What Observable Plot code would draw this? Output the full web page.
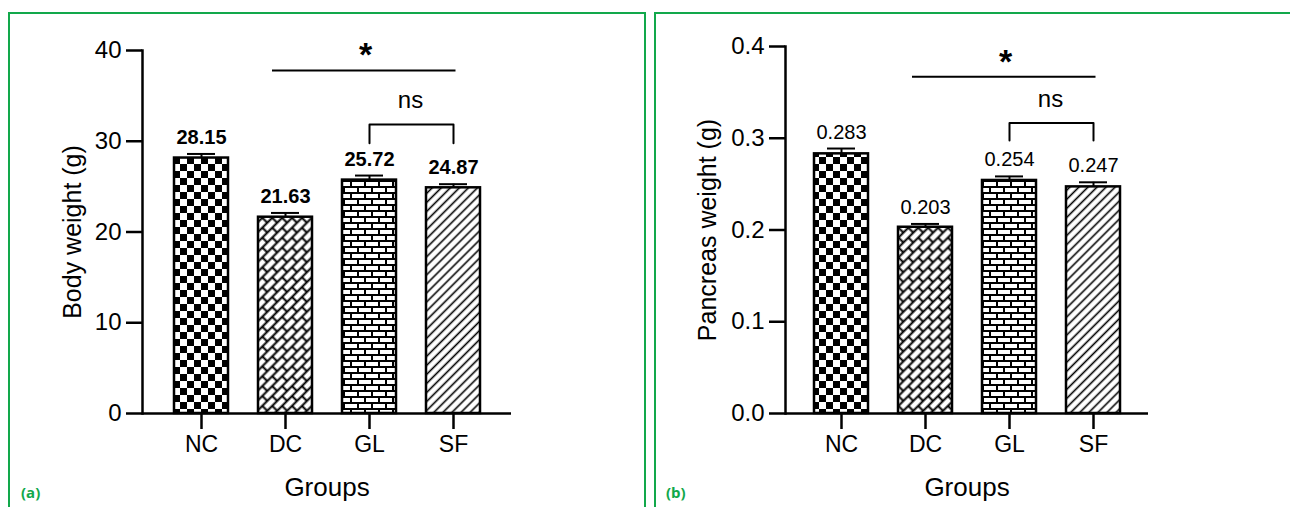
<!DOCTYPE html>
<html><head><meta charset="utf-8">
<script src="https://cdn.jsdelivr.net/npm/d3@7"></script>
<script src="https://cdn.jsdelivr.net/npm/@observablehq/plot@0.6"></script>
<style>
body{margin:0;width:1290px;height:507px;overflow:hidden;background:#fff;position:relative;font-family:"Liberation Sans",Arial,sans-serif;}
.panel{position:absolute;top:12px;height:520px;border:2px solid #12a84b;border-bottom:none;box-sizing:border-box;pointer-events:none;z-index:2;}
.tag{position:absolute;top:482px;font-family:"Open Sans",sans-serif;font-weight:700;font-size:15px;color:#12a84b;z-index:3;}
.chart{position:absolute;top:0;}
</style></head><body>
<svg width="0" height="0" style="position:absolute">
<defs>
<pattern id="pat-checker" patternUnits="userSpaceOnUse" width="14" height="14" x="5" y="3">
 <rect width="14" height="14" fill="white"/>
 <rect width="7" height="7" fill="black"/>
 <rect x="7" y="7" width="7" height="7" fill="black"/>
</pattern>
<pattern id="pat-herring" patternUnits="userSpaceOnUse" width="14" height="14" patternTransform="rotate(-45)">
 <rect width="14" height="14" fill="white"/>
 <path d="M0 3.5H14M0 10.5H14M3.5 3.5V10.5M10.5 10.5V14M10.5 0V3.5" stroke="black" stroke-width="2" fill="none"/>
</pattern>
<pattern id="pat-brick" patternUnits="userSpaceOnUse" width="14" height="12">
 <rect width="14" height="12" fill="white"/>
 <path d="M0 1H14M0 7H14M1 1V7M8 7V12M8 0V1" stroke="black" stroke-width="2" fill="none"/>
</pattern>
<pattern id="pat-hatch" patternUnits="userSpaceOnUse" width="6.4" height="10" patternTransform="rotate(45)">
 <rect width="6.4" height="10" fill="white"/>
 <path d="M3.2 0V10" stroke="black" stroke-width="1.6"/>
</pattern>
</defs>
</svg>
<div class="panel" style="left:8px;width:638px;"></div>
<div class="panel" style="left:654px;width:660px;"></div>
<div class="tag" style="left:21px;">(a)</div>
<div class="tag" style="left:666px;">(b)</div>
<div id="left" class="chart" style="left:0px;"></div>
<div id="right" class="chart" style="left:646px;"></div>
<script>
const groups = ["NC", "DC", "GL", "SF"];
const bodyWeight = [28.15, 21.63, 25.72, 24.87];
const bodyError = [0.45, 0.47, 0.5, 0.4];
const pancreasWeight = [0.283, 0.203, 0.254, 0.247];
const pancreasError = [0.0058, 0.0036, 0.0044, 0.005];
const bodyTicks = [0, 10, 20, 30, 40];
const pancreasTicks = [0, 0.1, 0.2, 0.3, 0.4];
const patternFills = ["url(#pat-checker)", "url(#pat-herring)", "url(#pat-brick)", "url(#pat-hatch)"];
const bodySig = {star: 37.8, bracketTop: 31.85, bracketFoot: 29.78};
const pancreasSig = {star: 0.367, bracketTop: 0.3166, bracketFoot: 0.2976};

function chart(o) {
  const data = groups.map((g, i) => ({group: g, value: o.values[i], top: o.values[i] + o.errors[i]}));
  const bracket = [
    {group: "GL", y: o.sig.bracketFoot}, {group: "GL", y: o.sig.bracketTop},
    {group: "SF", y: o.sig.bracketTop}, {group: "SF", y: o.sig.bracketFoot}
  ];
  return Plot.plot({
    width: 644, height: 507,
    marginTop: o.marginTop, marginBottom: 94, marginLeft: o.marginLeft, marginRight: o.marginRight,
    style: {fontFamily: "Liberation Sans, Arial, sans-serif", background: "transparent", color: "black", overflow: "visible"},
    x: {domain: groups, paddingInner: 0.359, paddingOuter: o.paddingOuter, label: null},
    y: {domain: [o.ticks[0], o.ticks[o.ticks.length - 1]], label: null},
    color: {domain: groups, range: patternFills},
    marks: [
      Plot.barY(data, {x: "group", y: "value", fill: "group", stroke: "black", strokeWidth: 2.5}),
      Plot.ruleX(data, {x: "group", y1: "value", y2: "top", stroke: "black", strokeWidth: 2}),
      Plot.tickY(data, {x: "group", y: "top", stroke: "black", strokeWidth: 2, insetLeft: 13, insetRight: 13}),
      Plot.text(data, {x: "group", y: "top", text: d => o.valueFormat(d.value), lineAnchor: "bottom", dy: -10, fontSize: 20, fontWeight: o.valueWeight}),
      Plot.frame({anchor: "left", strokeWidth: 2.5}),
      Plot.ruleY([0], {strokeWidth: 2.5}),
      Plot.axisY({ticks: o.ticks, tickSize: 16, tickPadding: 5, tickFormat: o.tickFormat, fontSize: 24, strokeWidth: 2.5, label: null}),
      Plot.axisX({tickSize: 16, tickPadding: 6, fontSize: 23, strokeWidth: 2.5, label: null}),
      Plot.text([o.yLabel], {text: d => d, frameAnchor: "left", textAnchor: "middle", rotate: -90, dx: o.labelDx, fontSize: 25}),
      Plot.text(["Groups"], {text: d => d, frameAnchor: "bottom", textAnchor: "middle", dy: 82, fontSize: 26}),
      Plot.ruleY([o.sig.star], {x1: () => "DC", x2: () => "SF", strokeWidth: 2, insetLeft: 14, insetRight: 24.5}),
      Plot.text(["*"], {text: d => d, x: () => "GL", y: () => o.sig.star, dx: -4, dy: -4, lineAnchor: "bottom", fontSize: 34, fontWeight: "bold"}),
      Plot.line(bracket, {x: "group", y: "y", stroke: "black", strokeWidth: 2}),
      Plot.text(["ns"], {text: d => d, x: () => "GL", y: () => o.sig.bracketTop, dx: 41, dy: -16, lineAnchor: "bottom", fontSize: 24})
    ]
  });
}

document.getElementById("left").append(chart({
  values: bodyWeight, errors: bodyError, ticks: bodyTicks, tickFormat: d3.format("d"),
  valueFormat: d3.format(".2f"), valueWeight: "bold", sig: bodySig, yLabel: "Body weight (g)",
  marginTop: 50, marginLeft: 142, marginRight: 133, paddingOuter: 0.368, labelDx: -70
}));
document.getElementById("right").append(chart({
  values: pancreasWeight, errors: pancreasError, ticks: pancreasTicks, tickFormat: d3.format(".1f"),
  valueFormat: d3.format(".3f"), valueWeight: "normal", sig: pancreasSig, yLabel: "Pancreas weight (g)",
  marginTop: 46, marginLeft: 139, marginRight: 142, paddingOuter: 0.3325, labelDx: -78
}));
</script>
</body></html>
